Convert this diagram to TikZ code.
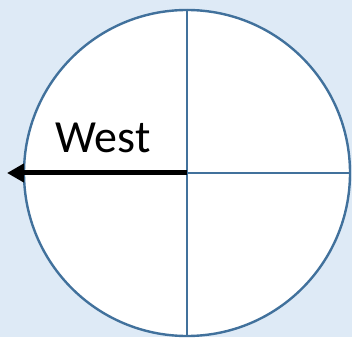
\documentclass[tikz,border=0pt]{standalone}
\usepackage{fontspec}
\setmainfont{Carlito}
\usetikzlibrary{arrows.meta}
\definecolor{bgblue}{RGB}{222,234,246}
\definecolor{rimblue}{RGB}{65,113,156}

\begin{document}
\begin{tikzpicture}[x=1pt,y=1pt,>={Triangle[length=17pt,width=18pt]},rim/.style={draw=rimblue,line width=2.4pt},pointer/.style={->,line width=5pt}]
\fill[bgblue] (0,0) rectangle (352,337);
\useasboundingbox (0,0) rectangle (352,337);
\node[circle,rim,fill=white,inner sep=0pt,minimum size=326pt] (dial) at (187,164) {};
\draw[rim] (dial.north) -- (dial.south);
\draw[rim] (dial.center) -- (dial.east);
\coordinate (westtip) at (7,164);
\draw[pointer] (dial.center) -- (westtip);
\node[anchor=base,inner sep=0pt,font=\fontsize{46}{50}\selectfont] (label) at (103,184) {West};
\end{tikzpicture}
\end{document}
